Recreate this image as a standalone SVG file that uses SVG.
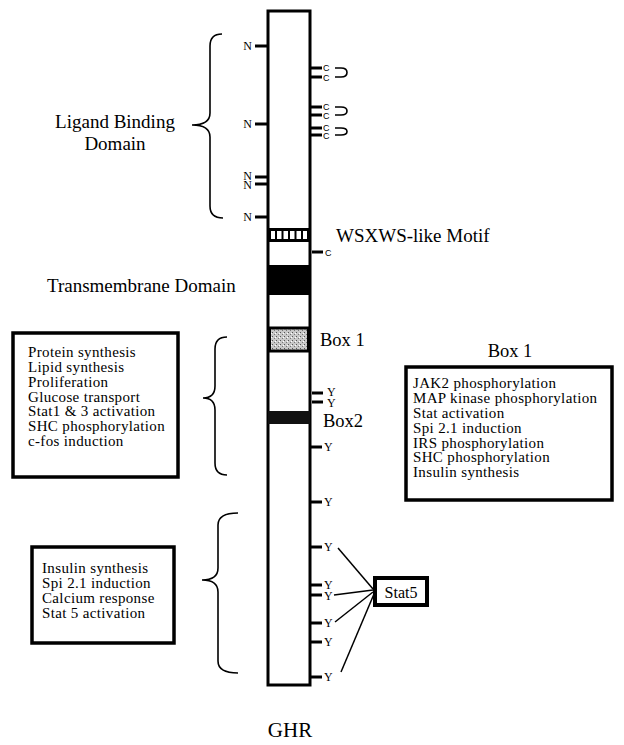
<svg xmlns="http://www.w3.org/2000/svg" width="624" height="745" viewBox="0 0 624 745">
<style>
.t{font-family:"Liberation Serif","Times New Roman",serif;fill:#000}
.bt{font-family:"Liberation Serif","Times New Roman",serif;font-size:15px;letter-spacing:0.35px;fill:#000}
.s{font-family:"Liberation Serif","Times New Roman",serif;font-size:12px;fill:#000}
.c{font-family:"Liberation Sans",Arial,sans-serif;font-size:9px;fill:#000}
.tk{stroke:#000;stroke-width:3}
.bx{fill:#fff;stroke:#000;stroke-width:3.5}
.br{fill:none;stroke:#000;stroke-width:1.6}
.ln{stroke:#000;stroke-width:1.5}
.lp{fill:none;stroke:#000;stroke-width:1.6}
</style>
<defs>
<pattern id="stip" width="4" height="4" patternUnits="userSpaceOnUse">
<rect width="4" height="4" fill="#c8c8c8"/>
<rect x="0" y="0" width="1" height="1" fill="#555"/>
<rect x="2" y="2" width="1" height="1" fill="#777"/>
<rect x="3" y="1" width="1" height="1" fill="#fff"/>
</pattern>
</defs>
<rect width="624" height="745" fill="#fff"/>

<g id="receptor">
<rect x="268" y="11" width="42" height="674" fill="#fff" stroke="#000" stroke-width="3"/>
<g id="wsxws-band">
<rect x="268" y="228" width="42" height="14" fill="#000"/>
<rect x="271" y="231" width="36" height="8" fill="#fff"/>
<g stroke="#000" stroke-width="2">
<line x1="276" y1="231" x2="276" y2="239"/>
<line x1="282.5" y1="231" x2="282.5" y2="239"/>
<line x1="289" y1="231" x2="289" y2="239"/>
<line x1="295.5" y1="231" x2="295.5" y2="239"/>
<line x1="302" y1="231" x2="302" y2="239"/>
</g>
</g>
<rect id="tm-band" x="268" y="265" width="42" height="30" fill="#000"/>
<rect id="box1-band" x="269.5" y="328" width="39" height="23" fill="url(#stip)" stroke="#000" stroke-width="3"/>
<rect id="box2-band" x="268" y="411" width="42" height="13" fill="#111"/>
</g>

<g id="n-sites">
<line class="tk" x1="255" y1="46" x2="268" y2="46"/><text class="s" x="252" y="50" text-anchor="end">N</text>
<line class="tk" x1="255" y1="124" x2="268" y2="124"/><text class="s" x="252" y="128" text-anchor="end">N</text>
<line class="tk" x1="255" y1="177" x2="268" y2="177"/><text class="s" x="252" y="180" text-anchor="end">N</text>
<line class="tk" x1="255" y1="184" x2="268" y2="184"/><text class="s" x="252" y="189" text-anchor="end">N</text>
<line class="tk" x1="255" y1="217" x2="268" y2="217"/><text class="s" x="252" y="221" text-anchor="end">N</text>
</g>

<g id="c-sites">
<line class="tk" x1="310" y1="68" x2="322" y2="68"/><text class="c" x="323" y="71">C</text>
<line class="tk" x1="310" y1="77" x2="322" y2="77"/><text class="c" x="323" y="80.5">C</text>
<path class="lp" d="M335,68 L341,68 Q347,68 347,72.5 Q347,77 341,77 L335,77"/>
<line class="tk" x1="310" y1="107" x2="322" y2="107"/><text class="c" x="323" y="110">C</text>
<line class="tk" x1="310" y1="115" x2="322" y2="115"/><text class="c" x="323" y="118.5">C</text>
<path class="lp" d="M335,107 L341,107 Q347,107 347,111 Q347,115 341,115 L335,115"/>
<line class="tk" x1="310" y1="128" x2="322" y2="128"/><text class="c" x="323" y="131">C</text>
<line class="tk" x1="310" y1="135" x2="322" y2="135"/><text class="c" x="323" y="138.5">C</text>
<path class="lp" d="M335,128 L341,128 Q347,128 347,131.5 Q347,135 341,135 L335,135"/>
<line class="tk" x1="312" y1="252" x2="323" y2="252"/><text class="c" x="325" y="256">C</text>
</g>

<g id="y-sites">
<line class="tk" x1="312" y1="393" x2="323" y2="393"/><text class="s" x="327" y="396">Y</text>
<line class="tk" x1="312" y1="402" x2="323" y2="402"/><text class="s" x="327" y="407">Y</text>
<line class="tk" x1="310" y1="447" x2="322" y2="447"/><text class="s" x="324" y="451">Y</text>
<line class="tk" x1="310" y1="502" x2="322" y2="502"/><text class="s" x="324" y="506">Y</text>
<line class="tk" x1="310" y1="547" x2="322" y2="547"/><text class="s" x="324" y="551">Y</text>
<line class="tk" x1="310" y1="585" x2="322" y2="585"/><text class="s" x="324" y="589">Y</text>
<line class="tk" x1="310" y1="595" x2="322" y2="595"/><text class="s" x="324" y="600">Y</text>
<line class="tk" x1="310" y1="623" x2="322" y2="623"/><text class="s" x="324" y="627">Y</text>
<line class="tk" x1="310" y1="642" x2="322" y2="642"/><text class="s" x="324" y="646">Y</text>
<line class="tk" x1="310" y1="677" x2="322" y2="677"/><text class="s" x="324" y="681">Y</text>
</g>

<g id="connectors">
<line class="ln" x1="338" y1="548" x2="373" y2="589"/>
<line class="ln" x1="334" y1="595" x2="373" y2="590"/>
<line class="ln" x1="335" y1="622" x2="373" y2="592"/>
<line class="ln" x1="341" y1="672" x2="374" y2="594"/>
</g>

<g id="braces">
<path class="br" d="M222,34 Q210,34 210,46 L210,113 Q210,125 192,125 Q210,125 210,137 L210,206 Q210,218 223,218"/>
<path class="br" d="M227,337 Q215,337 215,349 L215,386 Q215,398 203,398 Q215,398 215,410 L215,463 Q215,475 227,475"/>
<path class="br" d="M238,513 Q218,513 218,525 L218,568 Q218,580 202,580 Q218,580 218,592 L218,661 Q218,673 238,673"/>
</g>

<g id="labels">
<text class="t" x="115" y="128" font-size="19" text-anchor="middle">Ligand Binding</text>
<text class="t" x="115" y="150" font-size="19" text-anchor="middle">Domain</text>
<text class="t" x="336" y="242" font-size="19">WSXWS-like Motif</text>
<text class="t" x="47" y="292" font-size="19">Transmembrane Domain</text>
<text class="t" x="320" y="346" font-size="18.5">Box 1</text>
<text class="t" x="323" y="427" font-size="18.5">Box2</text>
<text class="t" x="510" y="357" font-size="18.5" text-anchor="middle">Box 1</text>
<text class="t" x="290" y="737" font-size="21" text-anchor="middle">GHR</text>
</g>

<g id="box-left-upper">
<rect class="bx" x="13" y="333" width="165" height="144"/>
<g class="bt">
<text x="28" y="357">Protein synthesis</text>
<text x="28" y="372">Lipid synthesis</text>
<text x="28" y="387">Proliferation</text>
<text x="28" y="401.5">Glucose transport</text>
<text x="28" y="416">Stat1 &amp; 3 activation</text>
<text x="28" y="431">SHC phosphorylation</text>
<text x="28" y="445.5">c-fos induction</text>
</g>
</g>

<g id="box-right">
<rect class="bx" x="406" y="367" width="206" height="133"/>
<g class="bt">
<text x="413" y="388">JAK2 phosphorylation</text>
<text x="413" y="403">MAP kinase phosphorylation</text>
<text x="413" y="418">Stat activation</text>
<text x="413" y="432.5">Spi 2.1 induction</text>
<text x="413" y="447.5">IRS phosphorylation</text>
<text x="413" y="462">SHC phosphorylation</text>
<text x="413" y="477">Insulin synthesis</text>
</g>
</g>

<g id="box-left-lower">
<rect class="bx" x="32" y="547" width="142" height="96"/>
<g class="bt">
<text x="42" y="573">Insulin synthesis</text>
<text x="42" y="588">Spi 2.1 induction</text>
<text x="42" y="603">Calcium response</text>
<text x="42" y="618">Stat 5 activation</text>
</g>
</g>

<g id="stat5">
<rect x="375" y="578" width="52" height="27" fill="#fff" stroke="#000" stroke-width="4"/>
<text class="t" x="401" y="597.5" font-size="16" text-anchor="middle">Stat5</text>
</g>
</svg>
